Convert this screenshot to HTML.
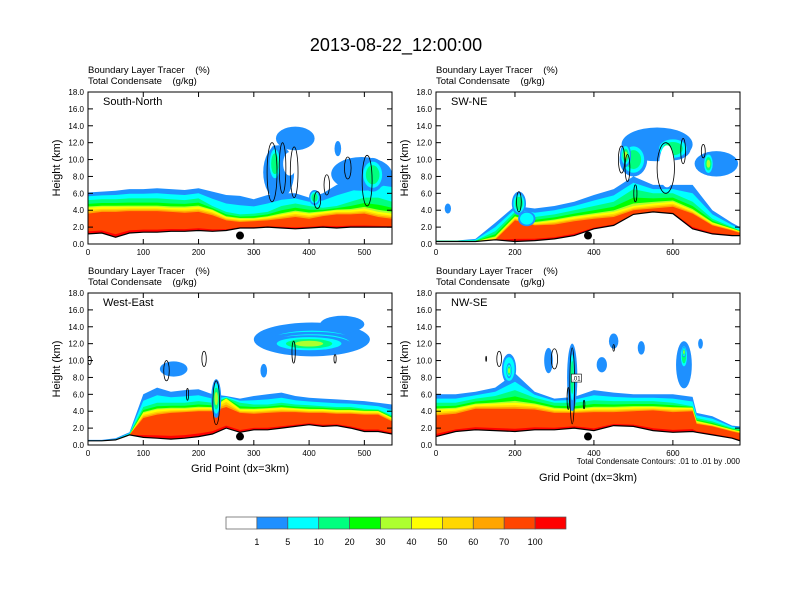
<!DOCTYPE html>
<html><head><meta charset="utf-8"><style>
html,body{margin:0;padding:0;background:#fff}
svg{display:block;font-family:"Liberation Sans",Arial,sans-serif}
text{white-space:pre}
</style></head><body>
<svg id="fig" width="792" height="612" viewBox="0 0 792 612" xmlns="http://www.w3.org/2000/svg">
<text x="396" y="51" font-size="18" text-anchor="middle">2013-08-22_12:00:00</text>
<g id="panels"></g>
<g id="cbar"></g>
</svg>
<script>
// ---------- Panel 1: South-North ----------
const p1X = [0,25,50,75,100,125,150,175,200,225,250,275,300,325,350,375,400,425,450,475,500,525,550];
const p1Terr = [1.2,1.3,0.8,1.3,1.4,1.4,1.5,1.5,1.6,1.5,1.6,1.9,1.9,2.0,1.9,1.8,1.9,2.0,1.9,2.0,2.0,2.0,2.0];
const p1Blue = [6.1,6.2,6.3,6.5,6.5,6.6,6.5,6.4,6.6,6.2,5.8,5.7,5.3,5.8,6.0,6.0,5.5,6.0,7.0,7.5,8.0,8.5,8.5];
const p1Green = [5.2,5.3,5.3,5.4,5.4,5.4,5.3,5.2,5.4,4.5,3.8,3.5,3.6,3.8,4.5,4.8,4.5,4.3,4.5,5.0,5.5,5.5,5.0];
const p1Yellow = [4.3,4.4,4.4,4.4,4.4,4.4,4.3,4.3,4.4,4.0,3.2,3.0,3.0,3.2,3.5,3.8,3.6,3.8,4.0,4.0,4.2,3.8,3.6];
const p1Red = [3.6,3.8,3.8,3.9,3.9,3.9,3.8,3.7,3.8,3.4,2.8,2.6,2.7,2.8,3.0,3.2,3.0,3.3,3.5,3.5,3.6,3.2,3.0];
const p1Blobs = [[375,12.5,35,1.4,0],[345,8.5,28,3.2,0],[338,9.5,12,2.2,2],[365,9.5,12,1.4,-1],[495,8.3,55,2.0,0],[515,8.2,22,2.0,2],[452,11.3,6,0.9,0],[410,5.5,10,0.9,2]];
const p1Cont = [[333,8.5,9,3.5],[352,9,6,3],[373,8.5,7,3],[415,5.2,6,1],[505,7.5,9,3],[470,9,6,1.3],[432,7,5,1.2]];
// ---------- Panel 2: SW-NE ----------
const p2X = [0,50,100,150,200,250,300,350,400,450,500,550,600,650,700,750,770];
const p2Terr = [0.3,0.3,0.3,0.5,0.3,0.4,0.6,1.0,1.8,2.2,3.5,3.8,3.6,1.8,1.2,1.0,1.0];
const p2Blue = [0.4,0.4,0.6,2.5,4.5,4.2,4.5,5.0,5.8,6.5,8.0,7.0,7.0,7.0,4.0,2.5,2.0];
const p2Green = [0.4,0.4,0.4,1.5,3.8,3.2,3.5,4.0,4.5,5.0,6.5,6.0,6.0,5.0,3.0,2.0,1.6];
const p2Yellow = [0.3,0.3,0.3,0.8,3.2,2.5,2.8,3.2,3.5,3.8,4.5,4.8,5.0,4.0,2.5,1.8,1.5];
const p2Red = [0.3,0.3,0.3,0.5,2.8,2.2,2.3,2.7,3.0,3.2,4.0,4.2,4.4,3.6,2.2,1.6,1.3];
const p2Blobs = [[560,11.8,90,2.0,0],[500,10,35,2.0,2],[600,11.3,45,1.4,2],[710,9.5,55,1.5,0],[690,9.5,14,1.4,3],[480,10.5,14,1.4,3],[585,9.2,20,2.5,-1],[30,4.2,8,0.6,0],[210,4.8,18,1.4,2],[230,3,22,0.9,1]];
const p2Cont = [[470,10,8,1.6],[485,9,6,1.6],[582,9,22,3],[626,11,6,1.5],[677,11,5,0.8],[505,6,4,1],[210,5,6,1.2]];
// ---------- Panel 3: West-East ----------
const p3X = [0,25,50,75,100,125,150,175,200,225,250,275,300,325,350,375,400,425,450,475,500,525,550];
const p3Terr = [0.5,0.5,0.6,1.2,0.9,0.8,0.7,0.8,1.0,1.3,2.0,1.5,1.8,1.8,2.0,2.2,2.4,2.2,2.3,2.0,1.6,1.6,1.3];
const p3Blue = [0.6,0.6,0.8,1.5,6.0,6.8,6.3,6.5,6.6,6.0,5.8,5.5,5.8,6.0,6.2,5.8,5.6,5.5,5.4,5.3,5.2,5.0,4.8];
const p3Green = [0.5,0.5,0.6,1.3,4.5,5.0,5.0,5.0,5.2,5.0,5.6,5.0,4.8,4.8,5.0,4.8,4.7,4.6,4.5,4.5,4.3,4.2,3.5];
const p3Yellow = [0.5,0.5,0.6,1.2,3.8,4.2,4.3,4.3,4.4,4.4,5.5,4.2,4.2,4.3,4.4,4.3,4.2,4.2,4.1,4.1,4.0,4.0,3.2];
const p3Red = [0.5,0.5,0.6,1.2,3.2,3.6,3.8,3.9,4.0,4.0,4.5,3.8,3.7,3.8,3.9,3.9,3.8,3.8,3.7,3.7,3.6,3.6,2.8];
const p3Blobs = [[405,12.5,105,2.0,0],[405,12.3,95,1.6,1],[405,12.1,88,1.3,2],[400,12,75,1.0,3],[460,14.3,40,1.0,0],[155,9,25,0.9,0],[318,8.8,6,0.8,0],[232,5.5,9,2.3,3]];
const p3Cont = [[142,8.8,5,1.2],[210,10.2,4,0.9],[180,6,2,0.7],[232,5,6,2.6],[372,11,3,1.3],[447,10.2,2,0.5],[3,10,3,0.5]];
// ---------- Panel 4: NW-SE ----------
const p4X = [0,50,100,150,200,250,300,350,400,450,500,550,600,650,660,700,750,770];
const p4Terr = [1.0,1.6,1.8,1.7,1.6,1.8,1.8,2.0,1.7,2.3,2.2,1.7,1.5,1.6,1.5,1.2,0.8,0.5];
const p4Blue = [6.0,6.0,6.3,6.8,8.5,6.3,5.5,5.7,6.5,6.2,6.0,6.0,6.0,5.7,3.8,3.4,2.3,2.2];
const p4Green = [5.0,5.0,5.5,5.8,6.5,5.6,5.0,5.0,5.3,5.2,5.2,5.2,5.0,4.6,3.2,2.8,2.0,1.9];
const p4Yellow = [4.2,4.3,4.8,4.9,5.0,4.8,4.3,4.2,4.4,4.4,4.5,4.5,4.4,4.4,2.8,2.4,1.8,1.6];
const p4Red = [3.5,3.7,4.3,4.3,4.3,4.2,3.8,3.8,3.9,3.9,4.0,4.1,3.9,4.0,2.5,2.2,1.6,1.4];
const p4Blobs = [[185,9,18,1.8,1],[185,8.8,7,0.9,3],[345,8,13,4,0],[345,8,7,3.5,2],[285,10,11,1.5,0],[450,12.3,12,0.9,0],[520,11.5,9,0.8,0],[420,9.5,13,0.9,0],[628,9.5,20,2.8,0],[628,10.5,10,1.5,2],[628,11,5,0.6,3],[670,12,6,0.6,0]];
const p4Cont = [[345,7,6,4.5],[300,10.2,8,1.2],[160,10.2,6,0.9],[127,10.2,1,0.3],[335,5.5,3,1.3],[375,4.8,2,0.5],[450,11.5,2,0.4]];

const cbLabels = ["1","5","10","20","30","40","50","60","70","100"];
const cbColors = ["#ffffff","#1e90ff","#00ffff","#00ff7f","#00ff00","#adff2f","#ffff00","#ffd700","#ffa500","#ff4500","#ff0000"];

const NS="http://www.w3.org/2000/svg";
function mk(tag,attrs,parent){const e=document.createElementNS(NS,tag);for(const k in attrs)e.setAttribute(k,attrs[k]);parent.appendChild(e);return e;}
const panelsG=document.getElementById('panels');

const panels=[
 {name:"South-North",x0:88,y0:92,xmax:550,xt:[0,100,200,300,400,500],X:p1X,T:p1Terr,B:p1Blue,G:p1Green,Y:p1Yellow,R:p1Red,blobs:p1Blobs,cont:p1Cont,dot:275,key:"south-north"},
 {name:"SW-NE",x0:436,y0:92,xmax:770,xt:[0,200,400,600],X:p2X,T:p2Terr,B:p2Blue,G:p2Green,Y:p2Yellow,R:p2Red,blobs:p2Blobs,cont:p2Cont,dot:385,key:"sw-ne"},
 {name:"West-East",x0:88,y0:293,xmax:550,xt:[0,100,200,300,400,500],X:p3X,T:p3Terr,B:p3Blue,G:p3Green,Y:p3Yellow,R:p3Red,blobs:p3Blobs,cont:p3Cont,dot:275,key:"west-east",xlabel:true},
 {name:"NW-SE",x0:436,y0:293,xmax:770,xt:[0,200,400,600],X:p4X,T:p4Terr,B:p4Blue,G:p4Green,Y:p4Yellow,R:p4Red,blobs:p4Blobs,cont:p4Cont,dot:385,key:"nw-se",xlabel:true,note:true}
];
const W=304,H=152;
panels.forEach((p,i)=>{
  const g=mk('g',{},panelsG);
  
  
  const sx=v=>p.x0+v/p.xmax*W, sy=v=>p.y0+H-v/18*H;
  const cid='clip'+i;
  const cp=mk('clipPath',{id:cid},g); mk('rect',{x:p.x0,y:p.y0,width:W,height:H},cp);
  const pg=mk('g',{'clip-path':`url(#${cid})`},g);
  const lerp=(a,b,f)=>a+(b-a)*f;
  const bands=[
    [k=>p.B[k],"#1e90ff","band-1-5"],
    [k=>lerp(p.G[k],p.B[k],0.5),"#00ffff","band-5-10"],
    [k=>p.G[k],"#00ff7f","band-10-20"],
    [k=>lerp(p.Y[k],p.G[k],0.5),"#00ff00","band-20-30"],
    [k=>lerp(p.Y[k],p.G[k],0.15),"#adff2f","band-30-40"],
    [k=>p.Y[k],"#ffff00","band-40-50"],
    [k=>lerp(p.R[k],p.Y[k],0.6),"#ffd700","band-50-60"],
    [k=>lerp(p.R[k],p.Y[k],0.3),"#ffa500","band-60-70"],
    [k=>p.R[k],"#ff4500","band-70-100"],
    [k=>lerp(p.T[k],p.R[k],0.12),"#ff0000","band-100"]
  ];
  bands.forEach(([f,c,nm])=>{
    let d='';
    p.X.forEach((x,k)=>{d+=(k?'L':'M')+sx(x).toFixed(1)+','+sy(Math.max(f(k),p.T[k])).toFixed(1);});
    for(let k=p.X.length-1;k>=0;k--) d+='L'+sx(p.X[k]).toFixed(1)+','+sy(p.T[k]).toFixed(1);
    const e=mk('path',{d:d+'Z',fill:c},pg);
    
    
  });
  const blobCols=["#1e90ff","#00ffff","#00ff7f","#adff2f"];
  p.blobs.forEach(b=>{
    const [x,y,rx,ry,l]=b;
    if(l<0){const e=mk('ellipse',{cx:sx(x),cy:sy(y),rx:rx/p.xmax*W,ry:ry/18*H,fill:'#fff'},pg);
      
      return;}
    for(let j=0;j<=l;j++){
      const s=1-j*0.22;
      const e=mk('ellipse',{cx:sx(x),cy:sy(y),rx:rx*s/p.xmax*W,ry:ry*s/18*H,fill:blobCols[j]},pg);
      
      
    }
  });
  let d='';
  p.X.forEach((x,k)=>{d+=(k?'L':'M')+sx(x).toFixed(1)+','+sy(p.T[k]).toFixed(1);});
  const under=mk('path',{d:d+`L${p.x0+W},${p.y0+H}L${p.x0},${p.y0+H}Z`,fill:'#fff'},pg);
  
  
  const tl=mk('path',{d:d,fill:'none',stroke:'#000','stroke-width':1.2},pg);
  
  
  p.cont.forEach(c=>{
    const e=mk('ellipse',{cx:sx(c[0]),cy:sy(c[1]),rx:c[2]/p.xmax*W,ry:c[3]/18*H,fill:'none',stroke:'#000','stroke-width':0.8},pg);
    
    
  });
  const dot=mk('circle',{cx:sx(p.dot),cy:sy(1.0),r:4,fill:'#000'},g);
  
  
  const fr=mk('rect',{x:p.x0,y:p.y0,width:W,height:H,fill:'none',stroke:'#000','stroke-width':1},g);
  
  
  for(let v=0;v<=18;v+=2){
    const y=sy(v);
    mk('line',{x1:p.x0,x2:p.x0+5,y1:y,y2:y,stroke:'#000'},g);
    mk('line',{x1:p.x0+W,x2:p.x0+W-5,y1:y,y2:y,stroke:'#000'},g);
    const t=mk('text',{x:p.x0-4,y:y+3,'font-size':8,'text-anchor':'end'},g);
    t.textContent=v.toFixed(1);
    
    
  }
  p.xt.forEach(v=>{
    const x=sx(v);
    mk('line',{x1:x,x2:x,y1:p.y0+H,y2:p.y0+H-5,stroke:'#000'},g);
    mk('line',{x1:x,x2:x,y1:p.y0,y2:p.y0+5,stroke:'#000'},g);
    const t=mk('text',{x:x,y:p.y0+H+11,'font-size':8,'text-anchor':'middle'},g);
    t.textContent=v;
    
    
  });
  const yl=mk('text',{x:0,y:0,'font-size':11,'text-anchor':'middle',transform:`translate(${p.x0-28},${p.y0+H/2}) rotate(-90)`},g);
  yl.textContent='Height (km)';
  
  
  const nm=mk('text',{x:p.x0+15,y:p.y0+13,'font-size':11},g);
  nm.textContent=p.name;
  
  
  const s1=mk('text',{x:p.x0,y:p.y0-19,'font-size':9.5},g);
  s1.textContent='Boundary Layer Tracer    (%)';
  
  
  const s2=mk('text',{x:p.x0,y:p.y0-8,'font-size':9.5},g);
  s2.textContent='Total Condensate    (g/kg)';
  
  
  if(p.xlabel){
    const xl=mk('text',{x:p.x0+W/2,y:p.note?481:472,'font-size':11,'text-anchor':'middle'},g);
    xl.textContent='Grid Point (dx=3km)';
    
    
  }
  if(p.note){
    const nt=mk('text',{x:p.x0+W,y:p.y0+H+19,'font-size':8,'text-anchor':'end'},g);
    nt.textContent='Total Condensate Contours: .01 to .01 by .000';
    
    
    mk('rect',{x:sx(343),y:sy(8.4),width:10,height:8,fill:'#fff',stroke:'#000','stroke-width':0.6},g);
    const lb=mk('text',{x:sx(343)+5,y:sy(8.4)+6.5,'font-size':6,'text-anchor':'middle'},g);
    lb.textContent='.01';
    
    
  }
});
const cb=document.getElementById('cbar');
const cbx0=226,cbw=340/cbColors.length;
cbColors.forEach((c,k)=>{
  const r=mk('rect',{x:cbx0+k*cbw,y:517,width:cbw,height:12,fill:c,stroke:'#555','stroke-width':0.7},cb);
  
  
});
cbLabels.forEach((l,k)=>{
  const t=mk('text',{x:cbx0+(k+1)*cbw,y:545,'font-size':9,'text-anchor':'middle'},cb);
  t.textContent=l;
  
  
});
</script>
</body></html>
